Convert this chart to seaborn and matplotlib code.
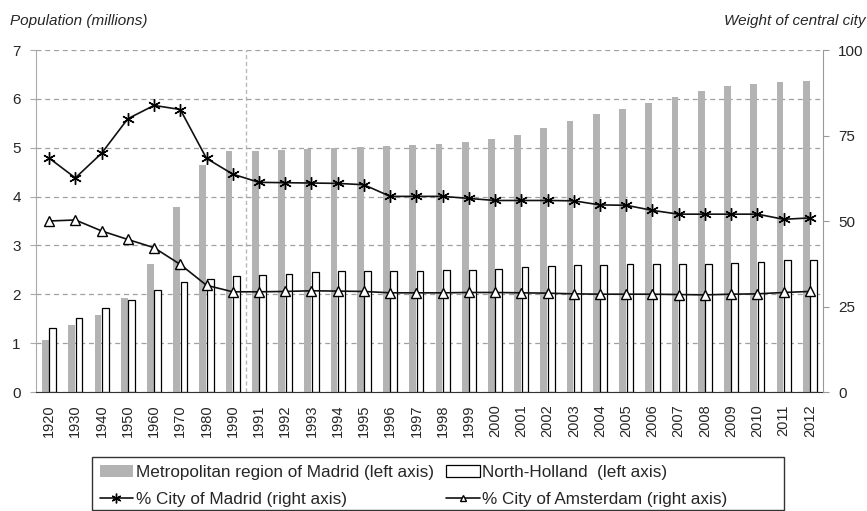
import numpy as np
import pandas as pd
import matplotlib.pyplot as plt
import seaborn as sns
from matplotlib.patches import Patch, Rectangle
from matplotlib.lines import Line2D

sns.set_style('white')
plt.rcParams['font.family'] = ['Liberation Sans', 'DejaVu Sans']

# data
years = ['1920', '1930', '1940', '1950', '1960', '1970', '1980', '1990',
         '1991', '1992', '1993', '1994', '1995', '1996', '1997', '1998',
         '1999', '2000', '2001', '2002', '2003', '2004', '2005', '2006',
         '2007', '2008', '2009', '2010', '2011', '2012']
madrid_pop = [1.06, 1.38, 1.58, 1.93, 2.61, 3.79, 4.65, 4.93,
              4.94, 4.95, 4.97, 4.99, 5.02, 5.04, 5.06, 5.08,
              5.12, 5.17, 5.26, 5.41, 5.55, 5.68, 5.80, 5.91,
              6.03, 6.16, 6.27, 6.31, 6.35, 6.36]
nholland_pop = [1.31, 1.52, 1.71, 1.89, 2.08, 2.25, 2.32, 2.38,
                2.39, 2.42, 2.45, 2.47, 2.48, 2.48, 2.48, 2.50,
                2.50, 2.52, 2.55, 2.57, 2.59, 2.59, 2.61, 2.61,
                2.61, 2.63, 2.65, 2.67, 2.70, 2.71]
madrid_pct = [68.4, 62.6, 69.8, 79.9, 83.8, 82.6, 68.3, 63.7,
              61.3, 61.2, 61.1, 61.0, 60.6, 57.2, 57.2, 57.2,
              56.6, 56.0, 56.0, 56.0, 55.9, 54.7, 54.6, 53.1,
              52.0, 52.0, 52.0, 52.0, 50.5, 50.9]
amsterdam_pct = [50.0, 50.3, 47.1, 44.6, 42.2, 37.3, 31.2, 29.3,
                 29.3, 29.4, 29.6, 29.5, 29.4, 29.0, 29.0, 29.0,
                 29.1, 29.1, 29.0, 28.9, 28.7, 28.6, 28.6, 28.6,
                 28.5, 28.4, 28.6, 28.7, 29.1, 29.4]

labels = ['Metropolitan region of Madrid (left axis)', 'North-Holland  (left axis)',
          '% City of Madrid (right axis)', '% City of Amsterdam (right axis)']

n = len(years)
grey = '#b3b3b3'
W, H = 867, 511

df = pd.DataFrame({
    'year': years * 2,
    'pop': madrid_pop + nholland_pop,
    'series': ['madrid'] * n + ['nholland'] * n,
})

fig = plt.figure(figsize=(W / 100, H / 100), dpi=100)
ax = fig.add_axes([36 / W, 1 - 392 / H, (823 - 36) / W, (392 - 50) / H])

sns.barplot(data=df, x='year', y='pop', hue='series', palette=[grey, 'white'],
            width=0.56, gap=0.08, saturation=1, legend=False, ax=ax)
for b in ax.containers[0]:
    b.set_edgecolor('none')
for b in ax.containers[1]:
    b.set_edgecolor('black')
    b.set_linewidth(0.9)

ax.set_xlim(-0.5, n - 0.5)
ax.set_ylim(0, 7)
ax.set_yticks(range(8))
ax.yaxis.grid(True, ls=(0, (4, 3)), color='#a0a0a0', lw=0.9)
ax.set_axisbelow(True)
ax.axvline(7.5, color='#b8b8b8', ls=(0, (3, 2)), lw=1, zorder=0)
ax.set_xlabel('')
ax.set_ylabel('')
ax.spines[['top', 'right']].set_visible(False)
ax.spines['left'].set_color('#aaaaaa')
ax.spines['bottom'].set_color('#333333')
ax.set_xticks(np.arange(n))
ax.set_xticklabels(years, rotation=90)
ax.set_xticks(np.arange(-0.5, n), minor=True)
ax.tick_params(axis='x', which='major', length=0, pad=9, labelsize=10.5)
ax.tick_params(axis='x', which='minor', length=4, color='#333333', direction='out')
ax.tick_params(axis='y', length=4, color='#aaaaaa', pad=7, labelsize=11, left=True)

ax2 = ax.twinx()
x = np.arange(n)
sns.lineplot(x=x, y=madrid_pct, ax=ax2, color='#111111', lw=1.2,
             marker=(6, 2, 0), markersize=9, mec='black', mew=1)
sns.lineplot(x=x, y=amsterdam_pct, ax=ax2, color='#111111', lw=1.2,
             marker='^', markersize=7, mfc='white', mec='black', mew=1)
ax2.set_xlim(-0.5, n - 0.5)
ax2.set_ylim(0, 100)
ax2.set_yticks([0, 25, 50, 75, 100])
ax2.set_ylabel('')
ax2.spines[['top', 'left', 'bottom']].set_visible(False)
ax2.spines['right'].set_color('#999999')
ax2.tick_params(axis='y', length=4, color='#999999', pad=7, labelsize=11, right=True)

fig.text(10 / W, 1 - 21 / H, 'Population (millions)', style='italic', fontsize=11, va='center')
fig.text(866 / W, 1 - 21 / H, 'Weight of central city', style='italic', fontsize=11,
         va='center', ha='right')

handles = [Patch(facecolor=grey, edgecolor='none'),
           Line2D([], [], color='#111111', lw=1.2, marker=(6, 2, 0), markersize=7, mec='black'),
           Patch(facecolor='white', edgecolor='black', lw=0.9),
           Line2D([], [], color='#111111', lw=1.2, marker='^', markersize=5, mfc='white', mec='black')]
fig.legend(handles, [labels[0], labels[2], labels[1], labels[3]], ncol=2,
           loc='upper left', bbox_to_anchor=(98 / W, 1 - 463 / H), frameon=False,
           fontsize=12.3, handlelength=1.95, handletextpad=0.15, columnspacing=0.75,
           labelspacing=0.7, borderpad=0.1, borderaxespad=0)
fig.add_artist(Rectangle((92 / W, 1 - 510 / H), (784 - 92) / W, (510 - 457) / H,
                         transform=fig.transFigure, fill=False, edgecolor='#333333', lw=1))

fig.savefig('out.png', dpi=100)
